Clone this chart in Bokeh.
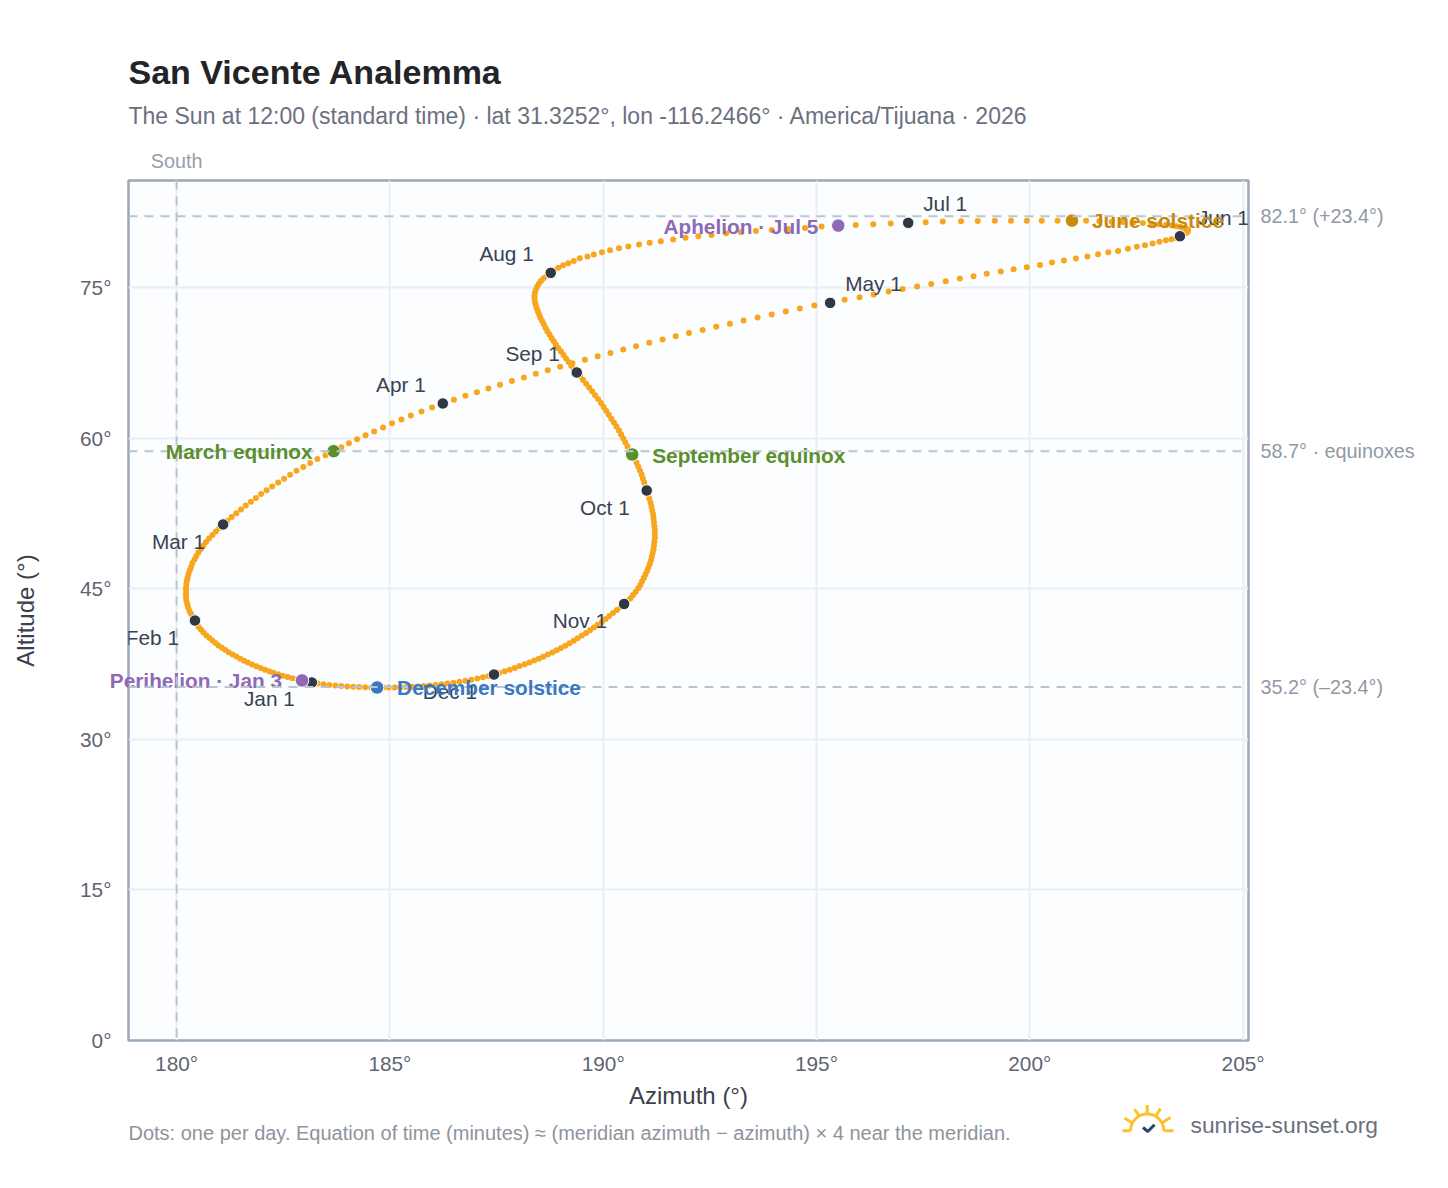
import math
from bokeh.embed import file_html
from bokeh.resources import INLINE
from bokeh.plotting import figure
from bokeh.layouts import column
from bokeh.core.properties import value
from bokeh.models import Label, Span, FixedTicker, Range1d, ColumnDataSource, LinearAxis, Title

TITLE = "San Vicente Analemma"
SUBTITLE = "The Sun at 12:00 (standard time) · lat 31.3252°, lon -116.2466° · America/Tijuana · 2026"
FOOTNOTE = "Dots: one per day. Equation of time (minutes) ≈ (meridian azimuth − azimuth) × 4 near the meridian."

az_jan = [183.17,183.05,182.94,182.82,182.71,182.60,182.49,182.38,182.27,182.17,182.07,181.97,181.87,181.77,181.67,181.58,181.49,181.40,181.31,181.22,181.14,181.06,180.98,180.91,180.84,180.77,180.70,180.63,180.57,180.51,180.48]
alt_jan = [35.66,35.75,35.86,35.97,36.08,36.20,36.33,36.47,36.62,36.77,36.93,37.10,37.27,37.45,37.64,37.83,38.03,38.24,38.45,38.67,38.89,39.12,39.35,39.59,39.84,40.09,40.35,40.64,40.93,41.22,41.52]
az_feb = [180.43,180.38,180.34,180.30,180.27,180.25,180.23,180.22,180.22,180.22,180.22,180.23,180.24,180.26,180.28,180.31,180.34,180.37,180.42,180.46,180.51,180.57,180.63,180.69,180.76,180.84,180.92,181.00]
alt_feb = [41.83,42.15,42.47,42.79,43.12,43.45,43.78,44.11,44.45,44.79,45.13,45.47,45.81,46.15,46.50,46.85,47.20,47.55,47.90,48.25,48.60,48.95,49.30,49.65,50.00,50.35,50.70,51.05]
az_mar = [181.09,181.19,181.29,181.40,181.51,181.62,181.74,181.86,181.98,182.11,182.24,182.38,182.52,182.66,182.81,182.97,183.13,183.30,183.49,183.68,183.86,184.04,184.23,184.43,184.63,184.84,185.05,185.27,185.49,185.74,185.99]
alt_mar = [51.40,51.77,52.14,52.52,52.90,53.28,53.66,54.04,54.43,54.81,55.19,55.58,55.96,56.35,56.74,57.12,57.51,57.91,58.30,58.70,59.09,59.49,59.88,60.28,60.67,61.07,61.47,61.86,62.26,62.66,63.05]
az_apr = [186.24,186.50,186.77,187.04,187.31,187.58,187.86,188.14,188.42,188.70,188.99,189.28,189.57,189.87,190.17,190.47,190.77,191.08,191.39,191.70,192.01,192.33,192.65,192.97,193.29,193.62,193.95,194.28,194.61,194.95]
alt_apr = [63.45,63.83,64.21,64.58,64.95,65.32,65.68,66.04,66.40,66.76,67.11,67.46,67.81,68.15,68.49,68.83,69.16,69.49,69.82,70.14,70.46,70.78,71.09,71.40,71.71,72.01,72.31,72.61,72.91,73.21]
az_may = [195.32,195.66,196.01,196.34,196.69,197.02,197.36,197.69,198.03,198.36,198.68,198.99,199.32,199.62,199.93,200.24,200.52,200.80,201.08,201.35,201.60,201.84,202.07,202.30,202.51,202.70,202.88,203.04,203.19,203.32,203.43]
alt_may = [73.47,73.77,74.03,74.30,74.60,74.86,75.10,75.36,75.63,75.89,76.13,76.36,76.59,76.82,77.02,77.25,77.49,77.69,77.89,78.08,78.32,78.52,78.65,78.85,79.05,79.21,79.38,79.55,79.71,79.81,79.94]
az_jun = [203.52,203.60,203.66,203.70,203.71,203.70,203.67,203.61,203.54,203.44,203.33,203.19,203.03,202.85,202.65,202.43,202.18,201.92,201.63,201.32,200.99,200.65,200.28,199.93,199.56,199.18,198.78,198.39,197.96,197.56]
alt_jun = [80.11,80.26,80.40,80.54,80.67,80.76,80.85,80.94,81.02,81.10,81.17,81.24,81.30,81.36,81.42,81.47,81.52,81.56,81.60,81.64,81.67,81.66,81.66,81.66,81.65,81.64,81.62,81.60,81.57,81.50]
az_jul = [197.15,196.74,196.33,195.92,195.51,195.12,194.73,194.34,193.95,193.58,193.23,192.88,192.54,192.23,191.93,191.64,191.35,191.09,190.84,190.59,190.37,190.16,189.97,189.78,189.63,189.45,189.31,189.18,189.06,188.95,188.85]
alt_jul = [81.44,81.38,81.31,81.24,81.17,81.07,80.94,80.84,80.74,80.64,80.51,80.41,80.24,80.11,79.95,79.78,79.61,79.45,79.28,79.08,78.92,78.72,78.52,78.29,78.09,77.92,77.65,77.42,77.22,76.96,76.69]
az_aug = [188.77,188.68,188.60,188.54,188.49,188.45,188.42,188.40,188.39,188.39,188.40,188.42,188.44,188.47,188.50,188.53,188.57,188.61,188.65,188.69,188.74,188.79,188.84,188.89,188.95,189.01,189.07,189.13,189.19,189.25,189.31]
alt_aug = [76.46,76.20,75.93,75.65,75.37,75.08,74.78,74.48,74.18,73.87,73.56,73.25,72.93,72.61,72.29,71.97,71.64,71.31,70.98,70.65,70.32,69.98,69.64,69.30,68.96,68.62,68.27,67.92,67.57,67.22,66.88]
az_sep = [189.38,189.46,189.53,189.60,189.67,189.74,189.81,189.88,189.95,190.01,190.07,190.13,190.19,190.25,190.31,190.37,190.42,190.47,190.52,190.57,190.62,190.68,190.73,190.78,190.82,190.86,190.90,190.93,190.96,190.99]
alt_sep = [66.54,66.17,65.80,65.42,65.04,64.66,64.28,63.89,63.50,63.11,62.72,62.33,61.94,61.55,61.16,60.77,60.37,59.97,59.57,59.17,58.77,58.37,57.97,57.57,57.17,56.77,56.37,55.97,55.57,55.17]
az_oct = [191.02,191.05,191.08,191.11,191.13,191.15,191.17,191.18,191.19,191.20,191.21,191.21,191.21,191.20,191.19,191.18,191.16,191.14,191.12,191.09,191.06,191.03,190.99,190.95,190.91,190.87,190.82,190.76,190.70,190.64,190.57]
alt_oct = [54.78,54.38,53.98,53.58,53.18,52.79,52.40,52.01,51.62,51.23,50.84,50.46,50.08,49.70,49.32,48.94,48.57,48.20,47.83,47.46,47.11,46.76,46.41,46.06,45.72,45.38,45.04,44.71,44.38,44.05,43.77]
az_nov = [190.49,190.41,190.32,190.23,190.14,190.06,189.97,189.87,189.78,189.69,189.60,189.50,189.40,189.31,189.21,189.11,189.01,188.91,188.81,188.70,188.59,188.49,188.38,188.27,188.16,188.04,187.93,187.81,187.69,187.56]
alt_nov = [43.48,43.17,42.87,42.57,42.27,41.98,41.69,41.41,41.13,40.86,40.59,40.33,40.07,39.82,39.57,39.33,39.10,38.87,38.65,38.44,38.23,38.03,37.84,37.65,37.47,37.29,37.11,36.94,36.77,36.61]
az_dec = [187.44,187.31,187.18,187.05,186.91,186.77,186.63,186.49,186.35,186.21,186.07,185.93,185.79,185.65,185.52,185.38,185.24,185.11,184.97,184.84,184.70,184.56,184.42,184.28,184.14,184.00,183.86,183.72,183.58,183.44,183.30]
alt_dec = [36.45,36.31,36.18,36.06,35.94,35.83,35.73,35.64,35.56,35.49,35.42,35.36,35.31,35.27,35.23,35.20,35.18,35.16,35.15,35.15,35.16,35.17,35.18,35.20,35.23,35.27,35.31,35.36,35.42,35.48,35.56]

az_months = [az_jan, az_feb, az_mar, az_apr, az_may, az_jun, az_jul, az_aug, az_sep, az_oct, az_nov, az_dec]
alt_months = [alt_jan, alt_feb, alt_mar, alt_apr, alt_may, alt_jun, alt_jul, alt_aug, alt_sep, alt_oct, alt_nov, alt_dec]
month_names = ["Jan", "Feb", "Mar", "Apr", "May", "Jun", "Jul", "Aug", "Sep", "Oct", "Nov", "Dec"]

azimuth = [v for m in az_months for v in m]
altitude = [v for m in alt_months for v in m]
assert len(azimuth) == 365 and len(altitude) == 365

month_label_style = {
    "Jan": ("right", -17, -16), "Feb": ("right", -16, -17), "Mar": ("right", -18, -17),
    "Apr": ("right", -17, 19), "May": ("left", 15, 19), "Jun": ("left", 18, 19),
    "Jul": ("left", 15, 19), "Aug": ("right", -17, 19), "Sep": ("right", -17, 19),
    "Oct": ("right", -17, -17), "Nov": ("right", -17, -17), "Dec": ("right", -17, -17),
}
events = [
    ("March equinox", 2, 20, "#5b8f2e", "right", -21, 0),
    ("September equinox", 8, 22, "#5b8f2e", "left", 20, -1),
    ("June solstice", 5, 21, "#c98a0b", "left", 20, 0),
    ("December solstice", 11, 21, "#3a78c2", "left", 20, 0),
    ("Perihelion · Jan 3", 0, 3, "#8e69b5", "right", -20, 0),
    ("Aphelion · Jul 5", 6, 5, "#8e69b5", "right", -20, -1),
]
overflowing = {"Perihelion · Jan 3"}
refs = {82.1: "82.1° (+23.4°)", 58.7: "58.7° · equinoxes", 35.2: "35.2° (–23.4°)"}
x_ticks = [180, 185, 190, 195, 200, 205]
y_ticks = [0, 15, 30, 45, 60, 75]

FONT = "Liberation Sans"
p = figure(width=1440, height=1110, frame_width=1120, frame_height=860, frame_align=False,
           output_backend="svg", toolbar_location=None,
           x_range=Range1d(178.872, 205.127), y_range=Range1d(0, 85.66),
           min_border_left=128, min_border_right=192, min_border_top=180, min_border_bottom=70,
           background_fill_color="#fbfdff", border_fill_color="#ffffff")
p.outline_line_color = "#9aa8b8"
p.outline_line_width = 2.5

for ax, ticks, lab in ((p.xaxis[0], x_ticks, "Azimuth (°)"), (p.yaxis[0], y_ticks, "Altitude (°)")):
    ax.ticker = FixedTicker(ticks=ticks)
    ax.major_label_overrides = {t: f"{t}°" for t in ticks}
    ax.axis_label = lab
    ax.axis_line_color = None
    ax.major_tick_line_color = None
    ax.minor_tick_line_color = None
    ax.major_label_text_font = FONT
    ax.major_label_text_font_size = "20.8px"
    ax.major_label_text_color = "#5f6472"
    ax.axis_label_text_font = FONT
    ax.axis_label_text_font_style = "normal"
    ax.axis_label_text_font_size = "24px"
    ax.axis_label_text_color = "#3c414c"
p.xaxis[0].major_label_standoff = 5
p.xaxis[0].axis_label_standoff = 4
p.yaxis[0].major_label_standoff = 11
p.yaxis[0].axis_label_standoff = 38
p.xgrid[0].ticker = FixedTicker(ticks=x_ticks)
p.ygrid[0].ticker = FixedTicker(ticks=y_ticks)
p.grid.grid_line_color = "#e9eef3"
p.grid.grid_line_width = 2

right_axis = LinearAxis(ticker=FixedTicker(ticks=list(refs)), major_label_overrides=dict(refs),
                        axis_line_color=None, major_tick_line_color=None, minor_tick_line_color=None,
                        major_label_text_font=FONT, major_label_text_font_size="19.8px",
                        major_label_text_color="#8f99a5", major_label_standoff=6)
p.add_layout(right_axis, "right")
south_axis = LinearAxis(ticker=FixedTicker(ticks=[180]), major_label_overrides={180: "South"},
                        axis_line_color=None, major_tick_line_color=None, minor_tick_line_color=None,
                        major_label_text_font=FONT, major_label_text_font_size="19.8px",
                        major_label_text_color="#94a0ab", major_label_standoff=3)
p.add_layout(south_axis, "above")

# a blank title only holds the gap between the South mark and the subtitle
p.add_layout(Title(text=" ", text_font_size="1px", standoff=15), "above")
p.add_layout(Title(text=SUBTITLE, align="left", text_font=FONT, text_font_size="23px",
                   text_font_style="normal", text_color="#6b7080", standoff=0), "above")
p.add_layout(Title(text=TITLE, align="left", text_font=FONT, text_font_size="34px",
                   text_font_style="bold", text_color="#222428", standoff=20), "above")

DASH = "9 7"
p.add_layout(Span(location=180, dimension="height", line_color="#b9c5cf", line_width=2, line_dash=DASH))
for val in refs:
    p.add_layout(Span(location=val, dimension="width", line_color="#b9c5cf", line_width=2, line_dash=DASH))

p.scatter(azimuth, altitude, size=6, color="#f9a61f", line_color=None)

month_x = [m[0] for m in az_months]
month_y = [m[0] for m in alt_months]
p.scatter(month_x, month_y, size=11.5, fill_color="#2f3946", line_color="#ffffff", line_width=1)

ev_src = ColumnDataSource(dict(
    x=[az_months[e[1]][e[2] - 1] for e in events],
    y=[alt_months[e[1]][e[2] - 1] for e in events],
    c=[e[3] for e in events]))
p.scatter("x", "y", source=ev_src, size=13.5, fill_color="c", line_color="#ffffff", line_width=1)


def place(label, text):
    # labels running past the frame sit in a side panel, which keeps them from being clipped
    if text in overflowing:
        p.add_layout(label, "above")
    else:
        p.add_layout(label)


for name, mx, my in zip(month_names, month_x, month_y):
    al, dx, dy = month_label_style[name]
    text = f"{name} 1"
    place(Label(x=mx, y=my, x_offset=dx, y_offset=dy, text=text, text_font=FONT,
                text_font_size="20.8px", text_color="#3a4250", text_align=al, text_baseline="middle"), text)

for (text, m, d, col, al, dx, dy) in events:
    place(Label(x=az_months[m][d - 1], y=alt_months[m][d - 1], x_offset=dx, y_offset=dy, text=text,
                text_font=FONT, text_font_size="20.8px", text_font_style="bold", text_color=col,
                text_align=al, text_baseline="middle"), text)

# footer strip: note and site mark (its top overlaps the axis panel so the sun's rays have room)
foot = figure(width=1440, height=64, frame_width=1440, frame_height=64, frame_align=False, margin=(-14, 0, 0, 0),
              output_backend="svg", toolbar_location=None,
              x_range=Range1d(0, 1440), y_range=Range1d(0, 64),
              min_border=0, min_border_left=0, min_border_right=0, min_border_top=0, min_border_bottom=0,
              outline_line_color=None, border_fill_alpha=0, background_fill_alpha=0)
foot.axis.visible = False
foot.grid.visible = False


def fy(page_y):
    return 1160 - page_y


foot.text([128], [fy(1131)], text=[FOOTNOTE], text_font=value(FONT), text_font_size="20px",
          text_color="#8d949e", text_baseline="middle")
foot.text([1190], [fy(1123)], text=["sunrise-sunset.org"], text_font=value(FONT), text_font_size="22.8px",
          text_color="#6b7080", text_baseline="middle")
YEL = "#f9c22e"
foot.arc(x=[1146.7], y=[fy(1129.3)], radius=16.7, start_angle=0, end_angle=math.pi, line_color=YEL, line_width=3)
foot.segment([1122, 1163.4, 1146.7, 1134, 1124, 1160, 1170],
             [fy(1129.3), fy(1129.3), fy(1103.5), fy(1107.5), fy(1116.5), fy(1107), fy(1116)],
             [1130, 1173, 1146.7, 1139, 1132, 1155, 1162],
             [fy(1129.3), fy(1129.3), fy(1112.5), fy(1115), fy(1121.5), fy(1115), fy(1121)],
             line_color=YEL, line_width=3)
foot.line([1142.5, 1147.3, 1154], [fy(1126), fy(1130), fy(1123.3)], line_color="#24466b", line_width=3)

open("out.html", "w").write(file_html(column(p, foot, spacing=0), INLINE))
